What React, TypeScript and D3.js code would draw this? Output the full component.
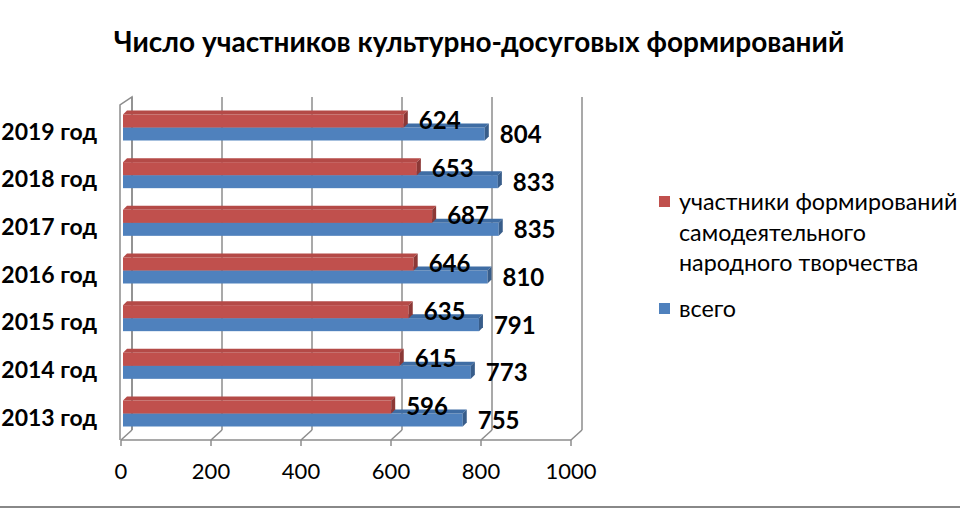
import * as d3 from "d3";
import React from "react";

const title = "Число участников культурно-досуговых формирований";
const years = ["2013 год", "2014 год", "2015 год", "2016 год", "2017 год", "2018 год", "2019 год"];
const participants = [596, 615, 635, 646, 687, 653, 624];
const total = [755, 773, 791, 810, 835, 833, 804];
const ticks = [0, 200, 400, 600, 800, 1000];
const legendRed = ["участники формирований", "самодеятельного", "народного творчества"];
const legendBlue = ["всего"];

const width = 960;
const height = 510;
const font = "Lato, 'Open Sans', sans-serif";

// floor (front edge) and wall offset
const floorY = 440;
const wallTop = 97;
const depthX = 11;
const depthY = -10;
const barDepth = 4;
const barH = 13;

const RED = { front: "#C0504D", top: "#B44A47", end: "#8C3836" };
const BLUE = { front: "#4F81BD", top: "#3F6DA4", end: "#385D8A" };
const GRID = "#8c8c8c";

function Bar({ x0, x1, y, c }: { x0: number; x1: number; y: number; c: typeof RED }) {
    const d = barDepth;
    return (
        <g>
            <rect x={x0} y={y} width={x1 - x0} height={barH} fill={c.front} />
            <path d={`M${x0},${y} L${x0 + d},${y - d} L${x1 + d},${y - d} L${x1},${y} Z`} fill={c.top} />
            <path d={`M${x1},${y} L${x1 + d},${y - d} L${x1 + d},${y + barH - d} L${x1},${y + barH} Z`} fill={c.end} />
        </g>
    );
}

export default function App() {
    const xFront = d3.scaleLinear().domain([0, 1000]).range([121, 571]);
    const xBar = d3.scaleLinear().domain([0, 1000]).range([123, 573]);
    const yRow = d3
        .scalePoint<string>()
        .domain([...years].reverse())
        .range([127.5, 413.5]);

    const backFloor = floorY + depthY;

    return (
        <svg
            width={width}
            height={height}
            style={{ position: "absolute", left: 0, top: 0, background: "#fff" }}
            fontFamily={font}
        >
            <text x={479} y={52} textAnchor="middle" fontSize={28} fontWeight="bold" fill="#000">
                {title}
            </text>

            {/* left wall */}
            <path
                d={`M${xFront(0) - 1},${floorY} L${xFront(0) - 1},${wallTop + 8} L${xFront(0) + depthX},${wallTop} L${xFront(0) + depthX},${backFloor}`}
                fill="none"
                stroke={GRID}
                strokeWidth={1.5}
            />

            {/* back wall gridlines and floor */}
            {ticks.map((t) => (
                <g key={t}>
                    <line
                        x1={xFront(t) + depthX}
                        x2={xFront(t) + depthX}
                        y1={wallTop}
                        y2={backFloor}
                        stroke={GRID}
                        strokeWidth={1.5}
                    />
                    <line
                        x1={xFront(t)}
                        x2={xFront(t) + depthX}
                        y1={floorY}
                        y2={backFloor}
                        stroke={GRID}
                        strokeWidth={1.5}
                    />
                    <line x1={xFront(t)} x2={xFront(t)} y1={floorY} y2={floorY + 6} stroke={GRID} strokeWidth={1.5} />
                    <text x={xFront(t)} y={479} textAnchor="middle" fontSize={22} fill="#000">
                        {t}
                    </text>
                </g>
            ))}
            <line x1={xFront(0)} x2={xFront(1000)} y1={floorY} y2={floorY} stroke={GRID} strokeWidth={1.5} />

            {/* bars */}
            {years.map((yr, i) => {
                const yc = yRow(yr) as number;
                return (
                    <g key={yr}>
                        <Bar x0={xBar(0)} x1={xBar(total[i])} y={yc} c={BLUE} />
                        <Bar x0={xBar(0)} x1={xBar(participants[i])} y={yc - barH} c={RED} />
                        <text x={xBar(participants[i]) + 15} y={yc + 1.5} fontSize={24} fontWeight="bold" fill="#000">
                            {participants[i]}
                        </text>
                        <text x={xBar(total[i]) + 15} y={yc + 15.5} fontSize={24} fontWeight="bold" fill="#000">
                            {total[i]}
                        </text>
                        <text x={97} y={yc + 12} textAnchor="end" fontSize={23} fontWeight="bold" fill="#000">
                            {yr}
                        </text>
                    </g>
                );
            })}

            {/* legend */}
            <rect x={659} y={196} width={11} height={11} fill={RED.front} />
            {legendRed.map((s, i) => (
                <text key={s} x={679} y={210 + i * 30.5} fontSize={23.3} fill="#000">
                    {s}
                </text>
            ))}
            <rect x={659} y={303} width={11} height={11} fill={BLUE.front} />
            {legendBlue.map((s) => (
                <text key={s} x={679} y={317} fontSize={23.3} fill="#000">
                    {s}
                </text>
            ))}

            <line x1={0} x2={width} y1={507} y2={507} stroke="#888" strokeWidth={2} />
        </svg>
    );
}
